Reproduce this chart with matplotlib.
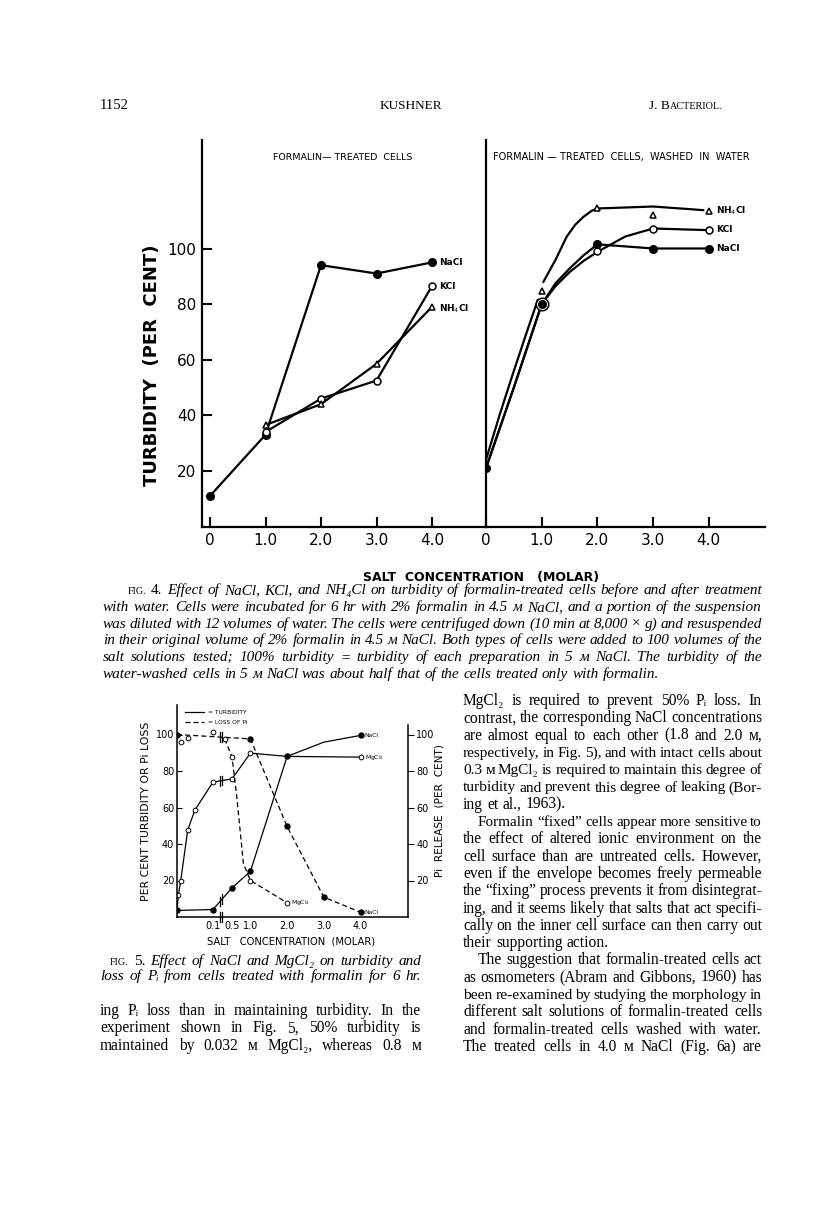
import matplotlib.pyplot as plt
import numpy as np

plt.rcParams['font.family'] = ['DejaVu Sans']

# ---- Fig. 4 data (turbidity, per cent) ----
conc = [0, 1.0, 2.0, 3.0, 4.0]
conc_hi = [1.0, 2.0, 3.0, 4.0]
# formalin-treated cells
nacl_a = [11, 33, 94, 91, 95]
kcl_a = [34, 46, 52.5, 86.5]
nh4cl_a = [36.5, 44, 58.5, 79]
# formalin-treated cells, washed in water (points)
nacl_b = [21, 80, 101.5, 100, 100]
kcl_b = [80, 99, 107, 106.7]
nh4cl_b = [84.7, 114.5, 112, 113.5]
# hand-drawn curves of the right panel
nacl_b_cx = [0, 0.5, 1.0, 1.25, 1.5, 1.75, 2.0, 3.0, 4.0]
nacl_b_cy = [21, 50, 80, 87.5, 92.8, 97.5, 101.5, 100, 100]
kcl_b_cx = [0, 0.5, 1.0, 1.25, 1.5, 1.75, 2.0, 2.5, 3.0, 4.0]
kcl_b_cy = [21, 50, 80, 86.5, 91.5, 95.5, 98.8, 104.3, 107.2, 106.6]
nh4cl_b_cx = [0, 0.25, 0.5, 0.75, 0.93, np.nan, 1.03, 1.25, 1.45, 1.6, 1.75, 1.9, 2.0, 3.0, 3.9]
nh4cl_b_cy = [24, 40.5, 56, 71, 81.5, np.nan, 88, 96, 104.3, 108.5, 111.4, 113.6, 114.4, 115.1, 113.8]

# ---- Fig. 5 data ----
turb_nacl_x = [0, 0.1, 0.5, 1.0, 2.0, 3.0, 4.0]
turb_nacl_y = [3.6, 4.1, 16, 25, 88, 95.8, 99.5]
turb_nacl_mark = [0, 1, 2, 3, 4, 6]
turb_mg_x = [0, 0.004, 0.01, 0.03, 0.05, 0.1, 0.5, 1.0, 2.0, 4.0]
turb_mg_y = [3.6, 12.2, 19.5, 47.8, 58.7, 73.9, 75.7, 89.8, 88, 87.6]
turb_mg_mark = [1, 2, 3, 4, 5, 6, 7, 9]
loss_nacl_x = [0, 1.0, 2.0, 3.0, 4.0]
loss_nacl_y = [100, 97.6, 49.6, 10.9, 2.6]
loss_mg_x = [0.3, 0.5, 0.63, 0.81, 1.0, 2.0]
loss_mg_y = [97.6, 87.6, 65.6, 29.2, 20, 7.8]
loss_mg_mark = [0, 1, 4, 5]
loss_mg_pts_x = [0.01, 0.03, 0.1]
loss_mg_pts_y = [95.8, 98.2, 101.6]
f5_ticks = [0.1, 0.5, 1.0, 2.0, 3.0, 4.0]
f5_ticklabels = ['0.1', '0.5', '1.0', '2.0', '3.0', '4.0']

# ---- page text ----
FIG4 = [('FIG.', {'fontsize': 7.2, 'fontstyle': 'normal'}), ('4.', {'fontstyle': 'normal'})]
FIG5 = [('FIG.', {'fontsize': 7.2, 'fontstyle': 'normal'}), ('5.', {'fontstyle': 'normal'})]
cap4 = [
    (FIG4 + 'Effect of NaCl, KCl, and NH\u2084Cl on turbidity of formalin-treated cells before and after treatment'.split(' '), True),
    ('with water. Cells were incubated for 6 hr with 2% formalin in 4.5 \u043c NaCl, and a portion of the suspension', True),
    ('was diluted with 12 volumes of water. The cells were centrifuged down (10 min at 8,000 \u00d7 g) and resuspended', True),
    ('in their original volume of 2% formalin in 4.5 \u043c NaCl. Both types of cells were added to 100 volumes of the', True),
    ('salt solutions tested; 100% turbidity = turbidity of each preparation in 5 \u043c NaCl. The turbidity of the', True),
    ('water-washed cells in 5 \u043c NaCl was about half that of the cells treated only with formalin.', False),
]
cap5 = [
    (FIG5 + 'Effect of NaCl and MgCl\u2082 on turbidity and'.split(' '), True),
    ('loss of P\u1d62 from cells treated with formalin for 6 hr.', True),
]
left = [
    ('ing P\u1d62 loss than in maintaining turbidity. In the', True),
    ('experiment shown in Fig. 5, 50% turbidity is', True),
    ('maintained by 0.032 \u043c MgCl\u2082, whereas 0.8 \u043c', True),
]
right1 = [
    ('MgCl\u2082 is required to prevent 50% P\u1d62 loss. In', True),
    ('contrast, the corresponding NaCl concentrations', True),
    ('are almost equal to each other (1.8 and 2.0 \u043c,', True),
    ('respectively, in Fig. 5), and with intact cells about', True),
    ('0.3 \u043c MgCl\u2082 is required to maintain this degree of', True),
    ('turbidity and prevent this degree of leaking (Bor-', True),
    ('ing et al., 1963).', False),
]
right2 = [
    ('Formalin \u201cfixed\u201d cells appear more sensitive to', True),
    ('the effect of altered ionic environment on the', True),
    ('cell surface than are untreated cells. However,', True),
    ('even if the envelope becomes freely permeable', True),
    ('the \u201cfixing\u201d process prevents it from disintegrat-', True),
    ('ing, and it seems likely that salts that act specifi-', True),
    ('cally on the inner cell surface can then carry out', True),
    ('their supporting action.', False),
]
right3 = [
    ('The suggestion that formalin-treated cells act', True),
    ('as osmometers (Abram and Gibbons, 1960) has', True),
    ('been re-examined by studying the morphology in', True),
    ('different salt solutions of formalin-treated cells', True),
    ('and formalin-treated cells washed with water.', True),
    ('The treated cells in 4.0 \u043c NaCl (Fig. 6a) are', True),
]

W, H = 816, 1219
fig = plt.figure(figsize=(W / 100, H / 100), dpi=100)
fig.patch.set_facecolor('white')
rend = fig.canvas.get_renderer()
SERIF = ['Liberation Serif', 'DejaVu Serif']


def box(x0, y0, x1, y1):
    return [x0 / W, 1 - y1 / H, (x1 - x0) / W, (y1 - y0) / H]


def words_of(txt):
    return txt.split(' ') if isinstance(txt, str) else txt


def width(s, size, style):
    t = fig.text(0, 0, s, fontsize=size, fontstyle=style, family=SERIF)
    w = t.get_window_extent(renderer=rend).width
    t.remove()
    return w


def fit(blocks, style, s0=10.0, q=35):
    # one font size for a group of paragraphs (tight lines get squeezed later)
    k = []
    for x0, x1, lines, indent in blocks:
        for i, (txt, just) in enumerate(lines):
            if not just:
                continue
            s = ' '.join(w if isinstance(w, str) else w[0] for w in words_of(txt))
            avail = x1 - x0 - (indent if i == 0 else 0)
            k.append(avail / width(s, s0, style))
    return s0 * np.percentile(k, q)


def line(x0, x1, y, words, size, style, justify):
    objs, sizes = [], []
    for w in words:
        s, kw = w if isinstance(w, tuple) else (w, {})
        props = dict(fontsize=size, fontstyle=style, family=SERIF, va='baseline', ha='left')
        props.update(kw)
        objs.append(fig.text(0, 0, s, **props))
        sizes.append(props['fontsize'])
    widths = [o.get_window_extent(renderer=rend).width for o in objs]
    min_gap = size * 100 / 72 * 0.2
    gap = size * 100 / 72 * 0.27
    if justify and len(objs) > 1:
        gap = (x1 - x0 - sum(widths)) / (len(objs) - 1)
        if gap < min_gap:
            sc = (x1 - x0 - min_gap * (len(objs) - 1)) / sum(widths)
            for o, s in zip(objs, sizes):
                o.set_fontsize(s * sc)
            widths = [o.get_window_extent(renderer=rend).width for o in objs]
            gap = (x1 - x0 - sum(widths)) / (len(objs) - 1)
    x = x0
    for o, w in zip(objs, widths):
        o.set_position((x / W, 1 - y / H))
        x += w + gap


def para(x0, x1, y, lines, step, size, style='normal', indent=15):
    for i, (txt, just) in enumerate(lines):
        line(x0 + (indent if i == 0 else 0), x1, y + i * step, words_of(txt), size, style, just)


# ---- header ----
fig.text(100 / W, 1 - 109 / H, '1152', fontsize=10.5, family=SERIF, va='baseline')
fig.text(411 / W, 1 - 109 / H, 'KUSHNER', fontsize=9.5, family=SERIF, va='baseline', ha='center')
t = fig.text(722 / W, 1 - 109 / H, 'ACTERIOL.', fontsize=7.3, family=SERIF, va='baseline', ha='right')
wb = t.get_window_extent(renderer=rend).width
fig.text((722 - wb) / W, 1 - 109 / H, 'J. B', fontsize=9.5, family=SERIF, va='baseline', ha='right')

# ---- Fig. 4 ----
ya = (0, 386.5 / 2.78)
axa = fig.add_axes(box(202, 140, 486, 526.5))
axb = fig.add_axes(box(486, 140, 765, 526.5))
axa.set_xlim(-8 / 55.5, 276 / 55.5)
axb.set_xlim(0, 279 / 55.7)
for ax in (axa, axb):
    ax.set_ylim(*ya)
    ax.set_facecolor('none')
    for s in ('top', 'right'):
        ax.spines[s].set_visible(False)
    for s in ('left', 'bottom'):
        ax.spines[s].set_linewidth(1.6)
    ax.set_xticks(conc)
    ax.set_xticklabels(['0', '1.0', '2.0', '3.0', '4.0'])
    ax.tick_params(axis='x', direction='in', length=7, width=1.5, labelsize=11, pad=5)
axa.set_yticks([20, 40, 60, 80, 100])
axa.tick_params(axis='y', direction='in', length=7, width=1.5, labelsize=11, pad=4)
axb.set_yticks([])

lw = 1.6
axa.plot(conc, nacl_a, '-o', color='k', lw=lw, ms=5.5)
axa.plot(conc_hi, kcl_a, '-o', color='k', lw=lw, ms=5, mfc='white', mew=1.1)
axa.plot(conc_hi, nh4cl_a, '-^', color='k', lw=lw, ms=5, mfc='white', mew=1.1)

axb.plot(nacl_b_cx, nacl_b_cy, '-', color='k', lw=lw)
axb.plot(kcl_b_cx, kcl_b_cy, '-', color='k', lw=lw)
axb.plot(nh4cl_b_cx, nh4cl_b_cy, '-', color='k', lw=lw)
axb.plot(conc_hi, kcl_b, 'o', color='k', ms=5, mfc='white', mew=1.1)
axb.plot(conc_hi[:1], kcl_b[:1], 'o', color='k', ms=9, mfc='white', mew=1.1)
axb.plot(conc, nacl_b, 'o', color='k', ms=5.5)
axb.plot(conc_hi, nh4cl_b, '^', color='k', ms=5, mfc='white', mew=1.1)

lab = dict(fontsize=6.5, va='center', textcoords='offset points', fontweight='bold')
axa.annotate('NaCl', (conc[-1], nacl_a[-1]), xytext=(5, 0), **lab)
axa.annotate('KCl', (conc_hi[-1], kcl_a[-1]), xytext=(5, 0), **lab)
axa.annotate('NH$_4$Cl', (conc_hi[-1], nh4cl_a[-1]), xytext=(5, -1), **lab)
axb.annotate('NH$_4$Cl', (conc_hi[-1], nh4cl_b[-1]), xytext=(5, 0), **lab)
axb.annotate('KCl', (conc_hi[-1], kcl_b[-1]), xytext=(5, 0), **lab)
axb.annotate('NaCl', (conc[-1], nacl_b[-1]), xytext=(5, 0), **lab)

axa.text(0.496, 0.956, 'FORMALIN\u2014 TREATED  CELLS', transform=axa.transAxes,
         ha='center', va='center', fontsize=6.8)
axb.text(0.025, 0.956, 'FORMALIN \u2014 TREATED  CELLS,  WASHED  IN  WATER', transform=axb.transAxes,
         ha='left', va='center', fontsize=7.0)
fig.text(152 / W, 1 - 365 / H, 'TURBIDITY  (PER  CENT)', rotation=90, fontsize=13,
         fontweight='bold', ha='center', va='center')
fig.text(481 / W, 1 - 578 / H, 'SALT  CONCENTRATION   (MOLAR)', fontsize=9,
         fontweight='bold', ha='center', va='center')

# ---- Fig. 5 ----
def fwd(x):
    x = np.asarray(x, float)
    return np.where(x <= 0.1, 9.8 * x, np.where(x < 0.2, 0.98 + (x - 0.1) * 2.2, x + 1.0))


def inv(u):
    u = np.asarray(u, float)
    return np.where(u <= 0.98, u / 9.8, np.where(u < 1.2, 0.1 + (u - 0.98) / 2.2, u - 1.0))


ax5 = fig.add_axes(box(177, 705, 408, 917))
ax5.set_xscale('function', functions=(fwd, inv))
ax5.set_xlim(0, float(inv(231 / 36.7)))
ax5.set_ylim(0, 212 / 1.825)
ax5.set_facecolor('none')
ax5.spines['top'].set_visible(False)
ax5.spines['right'].set_visible(False)
for s in ('left', 'bottom'):
    ax5.spines[s].set_linewidth(1.1)
ax5.set_xticks(f5_ticks)
ax5.set_xticklabels(f5_ticklabels)
ax5.xaxis.set_minor_locator(plt.NullLocator())
ax5.tick_params(axis='x', length=0, labelsize=7, pad=3)
ax5.set_yticks([20, 40, 60, 80, 100])
ax5.tick_params(axis='y', direction='in', length=3.5, width=0.8, labelsize=7, pad=2)

ax5r = ax5.twinx()
ax5r.set_ylim(ax5.get_ylim())
for s in ('top', 'left', 'bottom'):
    ax5r.spines[s].set_visible(False)
ax5r.spines['right'].set_linewidth(1.1)
ax5r.spines['right'].set_bounds(0, 192 / 1.825)
ax5r.set_yticks([20, 40, 60, 80, 100])
ax5r.tick_params(axis='y', direction='out', length=4, width=0.8, labelsize=7, pad=2)

lw5 = 0.9
ax5.plot(turb_nacl_x, turb_nacl_y, '-o', color='k', lw=lw5, ms=3.6, markevery=turb_nacl_mark)
ax5.plot(turb_mg_x, turb_mg_y, '-o', color='k', lw=lw5, ms=3.4, mfc='white', mew=0.7,
         markevery=turb_mg_mark)
ax5.plot(loss_nacl_x, loss_nacl_y, '--o', color='k', lw=lw5, ms=3.6, dashes=(4, 2.5))
ax5.plot(loss_mg_x, loss_mg_y, '--o', color='k', lw=lw5, ms=3.4, mfc='white', mew=0.7,
         dashes=(4, 2.5), markevery=loss_mg_mark)
ax5.plot(loss_mg_pts_x, loss_mg_pts_y, 'o', color='k', ms=3.4, mfc='white', mew=0.7)

# axis-break marks
ub = np.array([1.17, 1.23])
xb = inv(ub)
for xs, ys in ((turb_nacl_x, turb_nacl_y), (turb_mg_x, turb_mg_y),
               (loss_nacl_x, loss_nacl_y), ([0, 4], [0, 0])):
    yb = np.interp(ub, fwd(xs), ys)
    for xx, yy in zip(xb, yb):
        ax5.plot([xx, xx], [yy - 2.6, yy + 2.6], color='k', lw=0.9, clip_on=False)

lab5 = dict(fontsize=4.3, va='center', textcoords='offset points')
ax5.annotate('NaCl', (turb_nacl_x[-1], turb_nacl_y[-1]), xytext=(3, 0), **lab5)
ax5.annotate('MgCl$_2$', (turb_mg_x[-1], turb_mg_y[-1]), xytext=(3, 0), **lab5)
ax5.annotate('MgCl$_2$', (loss_mg_x[-1], loss_mg_y[-1]), xytext=(3, 0), **lab5)
ax5.annotate('NaCl', (loss_nacl_x[-1], loss_nacl_y[-1]), xytext=(3, 0), **lab5)

ax5.plot([], [], '-', color='k', lw=lw5, label='= TURBIDITY')
ax5.plot([], [], '--', color='k', lw=lw5, dashes=(4, 2.5), label='= LOSS OF Pi')
ax5.legend(loc='upper left', bbox_to_anchor=(0.035, 0.975), frameon=False, fontsize=4.3,
           handlelength=3.2, handletextpad=0.6, labelspacing=0.7, borderaxespad=0, borderpad=0)

fig.text(146 / W, 1 - 811 / H, 'PER CENT TURBIDITY OR Pi LOSS', rotation=90, fontsize=7.8,
         ha='center', va='center')
fig.text(440 / W, 1 - 811 / H, 'Pi  RELEASE  (PER  CENT)', rotation=90, fontsize=7.6,
         ha='center', va='center')
fig.text(291 / W, 1 - 941 / H, 'SALT   CONCENTRATION  (MOLAR)', fontsize=7.2,
         ha='center', va='center')

# ---- captions and body text ----
c4 = (103, 762, cap4, 25)
c5 = (100, 421, cap5, 10)
size_cap = fit([c4, c5], 'italic', q=40)
para(103, 762, 594, cap4, 16.8, size_cap, 'italic', indent=25)
para(100, 421, 965, cap5, 15, size_cap, 'italic', indent=10)

body = [(100, 421, left, 0), (463, 762, right1, 0), (463, 762, right2, 15), (463, 762, right3, 15)]
size_body = fit(body, 'normal', q=35)
para(100, 421, 1015, left, 17.3, size_body, indent=0)
para(463, 762, 705, right1, 17.3, size_body, indent=0)
para(463, 762, 705 + 7 * 17.3, right2, 17.3, size_body, indent=15)
para(463, 762, 705 + 15 * 17.3, right3, 17.3, size_body, indent=15)

fig.savefig('out.png', dpi=100, facecolor='white')
